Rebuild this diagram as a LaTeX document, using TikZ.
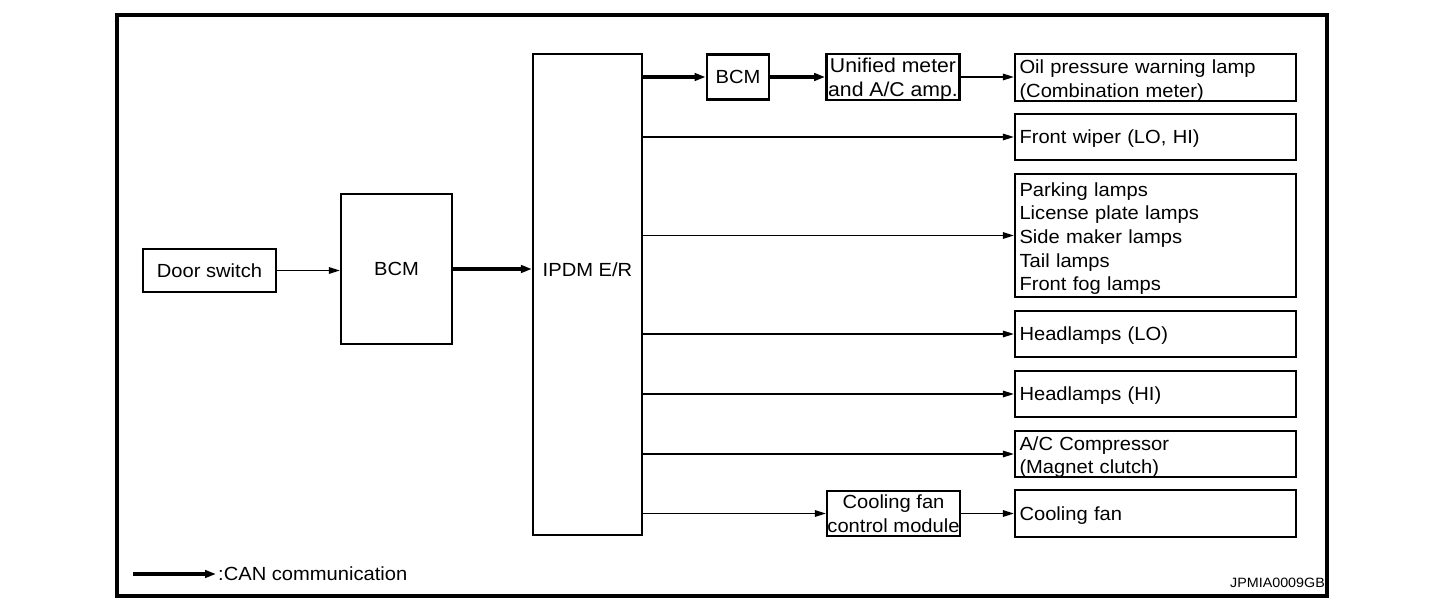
\documentclass[tikz,border=0pt]{standalone}
\usepackage{fontspec}
\setmainfont{Liberation Sans}[FakeStretch=1.06]
\usetikzlibrary{arrows.meta}
\newcommand\myboxend{\par\vspace{-6pt}}
\begin{document}
\begin{tikzpicture}[x=1pt,y=-1pt,
  txt/.style={font=\fontsize{19}{23.6}\selectfont},
  box/.style={draw, line width=2.2pt, inner sep=0pt, align=center, txt},
  cbox/.style={box, text depth=0pt},
  heavybox/.style={cbox, line width=2.8pt},
  lbox/.style={box, align=left, minimum width=281pt, text width=272pt,
    execute at end node=\myboxend},
  thin/.style={line width=1.5pt, -{Triangle[length=11pt,width=6.5pt]}},
  can/.style={line width=3.4pt, -{Triangle[length=11pt,width=7.5pt]}}]
\useasboundingbox (0,0) rectangle (1456,604);
\draw[line width=4pt] (117,15) rectangle (1327,596);

\node[cbox, minimum width=133pt, minimum height=43pt] (door) at (209.5,270.5) {Door switch};
\node[cbox, minimum width=111pt, minimum height=150pt] (bcm1) at (396.5,269) {BCM};
\node[box, minimum width=109pt, minimum height=481pt,
  label={[name=ipdmlbl, txt, yshift=24.5pt]center:IPDM E/R}] (ipdm) at (587.5,294.5) {};
\node[heavybox, minimum width=62pt, minimum height=45pt] (bcm2) at (738,77) {BCM};
\node[heavybox, minimum width=133pt, minimum height=46pt, font=\fontsize{20}{23.6}\selectfont] (umeter) at (893,77) {Unified meter\\and A/C amp.};
\node[cbox, minimum width=133pt, minimum height=45pt] (fanmod) at (893.5,513.5) {Cooling fan\\control module};

\node[lbox, minimum height=47pt] (oil) at (1155.5,77.5) {Oil pressure warning lamp\\(Combination meter)};
\node[lbox, minimum height=46pt] (wiper) at (1155.5,137) {Front wiper (LO, HI)};
\node[lbox, minimum height=123pt] (park) at (1155.5,235.5) {Parking lamps\\License plate lamps\\Side maker lamps\\Tail lamps\\Front fog lamps};
\node[lbox, minimum height=46pt] (hlo) at (1155.5,334) {Headlamps (LO)};
\node[lbox, minimum height=46pt] (hhi) at (1155.5,394) {Headlamps (HI)};
\node[lbox, minimum height=46pt] (ac) at (1155.5,454) {A/C Compressor\\(Magnet clutch)};
\node[lbox, minimum height=47pt] (fan) at (1155.5,513.5) {Cooling fan};

\draw[thin] (door.east) -- (door.east -| bcm1.west);
\draw[can] (bcm1.east) -- (bcm1.east -| ipdm.west);
\draw[can] (ipdm.east |- bcm2.west) -- (bcm2.west);
\draw[can] (bcm2.east) -- (umeter.west);
\draw[thin] (umeter.east) -- (umeter.east -| oil.west);
\draw[thin] (ipdm.east |- wiper.west) -- (wiper.west);
\draw[thin] (ipdm.east |- park.west) -- (park.west);
\draw[thin] (ipdm.east |- hlo.west) -- (hlo.west);
\draw[thin] (ipdm.east |- hhi.west) -- (hhi.west);
\draw[thin] (ipdm.east |- ac.west) -- (ac.west);
\draw[thin] (ipdm.east |- fanmod.west) -- (fanmod.west);
\draw[thin] (fanmod.east) -- (fanmod.east -| fan.west);

\coordinate (canstart) at (133,574);
\node[anchor=west, inner sep=2pt, txt] (canlbl) at (216,574) {:CAN communication};
\draw[can] (canstart) -- (canlbl.west);

\node[anchor=base east, inner sep=0pt, font=\fontsize{13.5}{15}\selectfont] (code) at (1325,587) {JPMIA0009GB};
\end{tikzpicture}
\end{document}
